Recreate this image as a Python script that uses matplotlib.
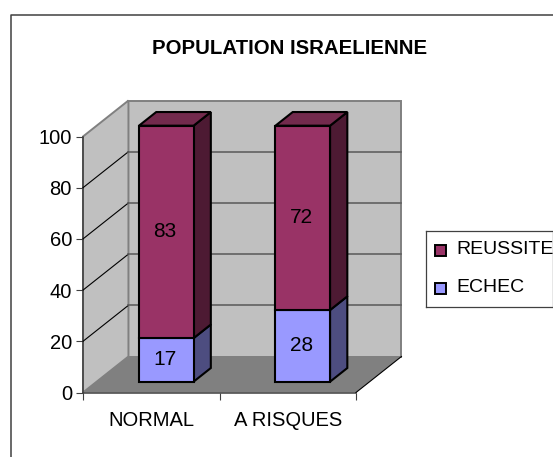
import matplotlib
matplotlib.use("Agg")
import matplotlib.pyplot as plt
from matplotlib.patches import Polygon, Rectangle

plt.rcParams["font.family"] = ["Liberation Sans", "DejaVu Sans"]

categories = ["NORMAL", "A RISQUES"]
echec = [17, 28]
reussite = [83, 72]
y_ticks = [0, 20, 40, 60, 80, 100]
series_names = ["REUSSITE", "ECHEC"]
title = "POPULATION ISRAELIENNE"

W, H = 553, 457

# oblique projection of the 3d box, depth in 0..1
DX = 0.333
DY = 14.06
BAR_W = 0.4
D0, D1 = 0.3, 0.68


def proj(x, y, d):
    return (x + d * DX, y + d * DY)


def poly(ax, pts, fc, ec="none", lw=0, z=1):
    ax.add_patch(Polygon(pts, closed=True, fc=fc, ec=ec, lw=lw, zorder=z,
                         clip_on=False, joinstyle="miter"))


def draw_segment(ax, x, y0, y1, front, side, top=None, z=5):
    l, r = x - BAR_W / 2, x + BAR_W / 2
    poly(ax, [proj(r, y0, D0), proj(r, y0, D1), proj(r, y1, D1), proj(r, y1, D0)],
         side, "black", 1.5, z)
    if top:
        poly(ax, [proj(l, y1, D0), proj(r, y1, D0), proj(r, y1, D1), proj(l, y1, D1)],
             top, "black", 1.5, z)
    poly(ax, [proj(l, y0, D0), proj(r, y0, D0), proj(r, y1, D0), proj(l, y1, D0)],
         front, "black", 1.5, z + 1)


fig = plt.figure(figsize=(W / 100, H / 100), dpi=100)

# chart area border, cut by the image edge on the right and bottom
fig.add_artist(plt.Line2D([10.5 / W, 10.5 / W, 1], [0, 1 - 15 / H, 1 - 15 / H],
                          color="#404040", lw=1.1))

ax = fig.add_axes([83 / W, 1 - 392.5 / H, 273 / W, 256 / H])
ax.set_xlim(-0.5, 1.5)
ax.set_ylim(0, 100)
ax.patch.set_visible(False)
for s in ["top", "right"]:
    ax.spines[s].set_visible(False)
for s in ["left", "bottom"]:
    ax.spines[s].set_color("#404040")
    ax.spines[s].set_linewidth(1.1)

xa, xb = ax.get_xlim()
ya, yb = ax.get_ylim()

# back wall, side wall, floor
poly(ax, [proj(xa, ya, 1), proj(xb, ya, 1), proj(xb, yb, 1), proj(xa, yb, 1)],
     "#c0c0c0", "#808080", 1.4)
poly(ax, [proj(xa, ya, 0), proj(xa, ya, 1), proj(xa, yb, 1), proj(xa, yb, 0)],
     "#c0c0c0", "#808080", 1.4)
poly(ax, [proj(xa, ya, 0), proj(xb, ya, 0), proj(xb, ya, 1), proj(xa, ya, 1)],
     "#808080", "none", 0, 2)

# grid lines around the wall corner
for t in y_ticks[1:-1]:
    p0, p1, p2 = proj(xa, t, 0), proj(xa, t, 1), proj(xb, t, 1)
    ax.plot([p0[0], p1[0]], [p0[1], p1[1]], color="black", lw=0.8, zorder=3, clip_on=False)
    ax.plot([p1[0], p2[0]], [p1[1], p2[1]], color="#606060", lw=1.2, zorder=3, clip_on=False)
# open edge of the floor on the right
p0, p1 = proj(xb, ya, 0), proj(xb, ya, 1)
ax.plot([p0[0], p1[0]], [p0[1], p1[1]], color="black", lw=0.8, zorder=3, clip_on=False)

for i in range(len(categories)):
    draw_segment(ax, i + 0.01, 0, echec[i], "#9999ff", "#4d4d80", z=5)
    draw_segment(ax, i + 0.01, echec[i], echec[i] + reussite[i], "#993366", "#4d1a33",
                 "#732a4d", z=8)
    x, y = proj(i, echec[i] / 2, D0)
    ax.text(x, y, str(echec[i]), ha="center", va="center", fontsize=15, zorder=12)
    x, y = proj(i, echec[i] + reussite[i] / 2, D0)
    ax.text(x, y, str(reussite[i]), ha="center", va="center", fontsize=15, zorder=12)

ax.set_yticks(y_ticks)
ax.set_xticks([-0.5, 0.5, 1.5])
ax.set_xticklabels([])
ax.set_xticks([0, 1], labels=categories, minor=True)
ax.tick_params(axis="x", which="minor", length=0, labelsize=14.5, pad=13)
ax.tick_params(axis="x", which="major", length=5, color="#404040")
ax.tick_params(axis="y", length=5, color="#404040", labelsize=14.5, pad=3)

fig.text(290 / W, 1 - 48 / H, title, ha="center", va="center", fontsize=14.7,
         fontweight="bold")

# legend, built by hand so the box runs off the image like the original
leg = fig.add_axes([426 / W, 1 - 307 / H, 127 / W, 76.5 / H])
leg.set_xlim(0, 127)
leg.set_ylim(0, 76.5)
leg.set_xticks([])
leg.set_yticks([])
for s in leg.spines.values():
    s.set_color("#404040")
    s.set_linewidth(0.9)
for name, col, ypos in zip(series_names, ["#993366", "#9999ff"], [56, 18]):
    leg.add_patch(Rectangle((9, ypos - 5), 11, 11, fc=col, ec="black", lw=1.4))
    leg.text(30, ypos + 1, name, va="center", fontsize=14)

fig.savefig("out.png", dpi=100)
